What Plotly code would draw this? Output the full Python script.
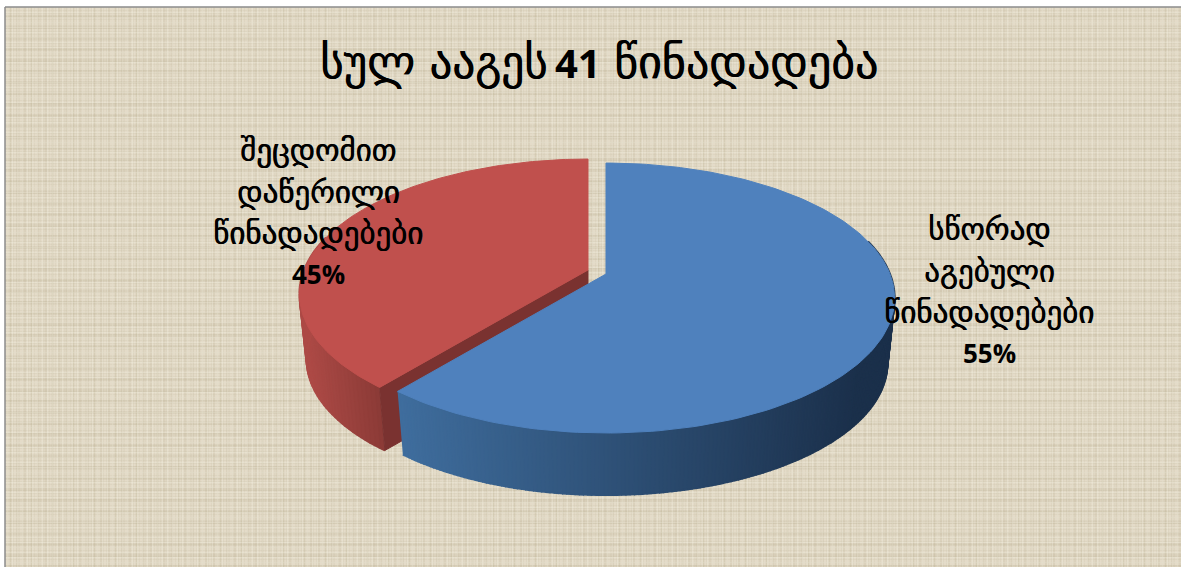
import numpy as np
import plotly.graph_objects as go

TITLE_PARTS = ["სულ ააგეს", "41", "წინადადება"]
CATEGORIES = [["სწორად", "აგებული", "წინადადებები"], ["შეცდომით", "დაწერილი", "წინადადებები"]]
LABEL_PCT = ["55%", "45%"]
DRAWN_SHARE = [60.9, 39.1]   # share of the circle each slice covers in the picture
COLORS = ["#4f81bd", "#c0504d"]

W, H = 1181, 567
CX, CY, R, K, P = 606, 274, 284, 130.7, 0.178
DEPTH, BOTTOM_SCALE = 66, 0.975
EXPLODE = (-18, -4)
GEORGIAN = "DejaVu Sans"
LATIN = "Open Sans"


def proj(t, radius=1.0, off=(0, 0), bottom=False):
    t = np.radians(t)
    u, v = radius * np.sin(t), -radius * np.cos(t)
    w = 1 - P * v
    x, y = R * u / w, K * v / w
    if bottom:
        x, y = x * BOTTOM_SCALE, y * BOTTOM_SCALE + DEPTH
    return CX + off[0] + x, CY + off[1] + y


def mix(a, b, f):
    f = min(max(f, 0), 1)
    a = [int(a[i:i + 2], 16) for i in (1, 3, 5)]
    b = [int(b[i:i + 2], 16) for i in (1, 3, 5)]
    return "rgb(%d,%d,%d)" % tuple(round(p + (q - p) * f) for p, q in zip(a, b))


fig = go.Figure()


def poly(xs, ys, color, width=1):
    fig.add_trace(go.Scatter(x=list(xs), y=list(ys), mode="lines", fill="toself",
                             fillcolor=color, line=dict(color=color, width=width),
                             hoverinfo="skip", showlegend=False))


def side(t0, t1, off, stops, xr, n):
    edges = np.linspace(t0, t1, n + 1)
    for i in range(n):
        ts = np.linspace(edges[i], edges[i + 1], 2)
        xt, yt = proj(ts, off=off)
        xb, yb = proj(ts[::-1], off=off, bottom=True)
        c = mix(stops[0], stops[1], (xt.mean() - xr[0]) / (xr[1] - xr[0]))
        poly(np.r_[xt, xb], np.r_[yt, yb], c, width=2)


def top(t0, t1, off, color):
    ts = np.linspace(t0, t1, 160)
    x, y = proj(ts, off=off)
    ax, ay = proj(0.0, radius=0.0, off=off)
    poly(np.r_[ax, x, ax], np.r_[ay, y, ay], color)


split = 360 * DRAWN_SHARE[0] / sum(DRAWN_SHARE)

# background: woven paper
bgx = [5, W + 5, W + 5, 5, 5]
bgy = [7, 7, H + 5, H + 5, 7]
fig.add_trace(go.Scatter(x=bgx, y=bgy, mode="lines", fill="toself", hoverinfo="skip", showlegend=False,
                         line=dict(width=0), fillcolor="#e4dbc8"))
for size, shape, fg, sol in ((3, "+", "rgba(190,178,150,0.32)", 0.3),
                             (7, "|", "rgba(175,162,132,0.18)", 0.25),
                             (11, "-", "rgba(175,162,132,0.18)", 0.25),
                             (5, "+", "rgba(246,241,231,0.45)", 0.2)):
    fig.add_trace(go.Scatter(x=bgx, y=bgy, mode="lines", fill="toself", hoverinfo="skip", showlegend=False,
                             line=dict(width=0), fillcolor="rgba(0,0,0,0)",
                             fillpattern=dict(shape=shape, size=size, solidity=sol, fgcolor=fg,
                                              bgcolor="rgba(0,0,0,0)", fgopacity=1, fillmode="overlay")))
fig.add_trace(go.Scatter(x=bgx, y=bgy, mode="lines", hoverinfo="skip", showlegend=False,
                         line=dict(color="#8c8c8c", width=1.5)))

# red slice
side(split, 285, EXPLODE, ("#8c3b37", "#ad4a46"), (378, 305), 50)
ax0, ay0 = proj(0.0, radius=0.0, off=EXPLODE)
ax1, ay1 = proj(split, off=EXPLODE)
bx0, by0 = proj(0.0, radius=0.0, off=EXPLODE, bottom=True)
bx1, by1 = proj(split, off=EXPLODE, bottom=True)
poly([ax0, ax1, bx1, bx0, ax0], [ay0, ay1, by1, by0, ay0], "#7a3230")
top(split, 360, EXPLODE, COLORS[1])

# blue slice
side(split, 75, (0, 0), ("#3f6d9d", "#1b304b"), (400, 860), 200)
top(0, split, (0, 0), COLORS[0])

SHADOW = "0.6px 0 0 black"
ann = [
    (318, 62, TITLE_PARTS[0], GEORGIAN, 45, "left", False),
    (553, 62, TITLE_PARTS[1], LATIN, 40, "left", True),
    (612, 62, TITLE_PARTS[2], GEORGIAN, 46, "left", False),
]
for lx, lines, pct in ((989, CATEGORIES[0], LABEL_PCT[0]), (318, CATEGORIES[1], LABEL_PCT[1])):
    y0 = 229 if lx > 600 else 150
    for i, s in enumerate(lines):
        ann.append((lx, y0 + i * 41.5, s, GEORGIAN, 31, "center", False))
    ann.append((lx, y0 + 124, pct, LATIN, 26, "center", True))

for x, y, s, fam, size, anchor, bold in ann:
    fig.add_annotation(x=x, y=y, text=f"<b>{s}</b>" if bold else s, showarrow=False, xanchor=anchor, yanchor="middle",
                       font=dict(family=fam, size=size, color="black", shadow="none" if bold else SHADOW))

fig.update_xaxes(range=[0, W], visible=False, fixedrange=True)
fig.update_yaxes(range=[H, 0], visible=False, fixedrange=True)
fig.update_layout(width=W, height=H, margin=dict(l=0, r=0, t=0, b=0),
                  paper_bgcolor="white", plot_bgcolor="white", showlegend=False)
fig.write_html("out.html", config={"displayModeBar": False},
               post_script="document.body.style.margin='0';document.documentElement.style.overflow='hidden';")
